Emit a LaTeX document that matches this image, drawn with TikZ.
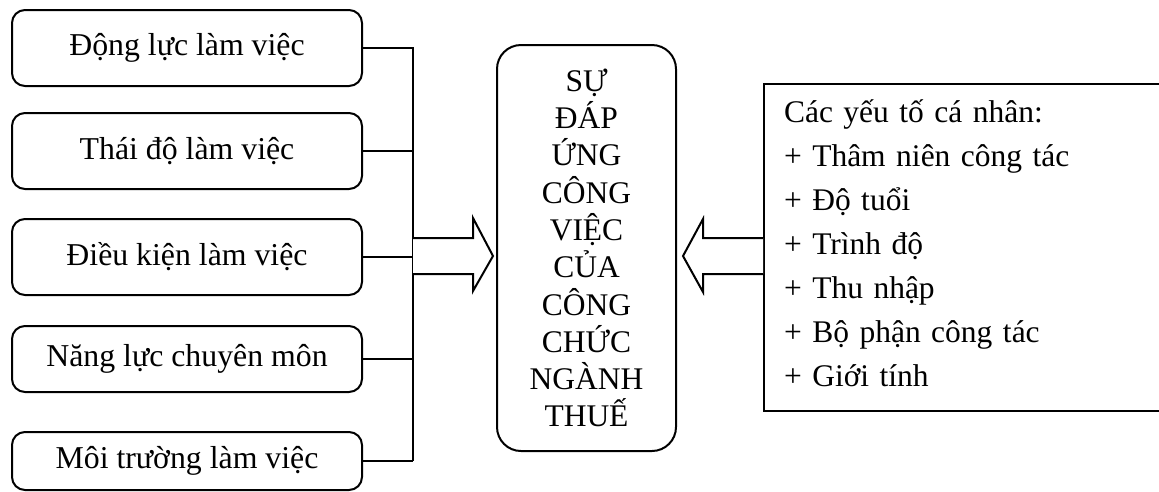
\documentclass[tikz,border=0pt]{standalone}
\usepackage{fontspec}
\setmainfont{Liberation Serif}
\usetikzlibrary{calc}
\begin{document}
\begin{tikzpicture}[x=1pt, y=-1pt, line width=2pt,
  factor/.style={draw, rounded corners=13pt, minimum width=350pt, inner sep=0pt,
    font=\fontsize{31.8}{38}\selectfont},
  bigbox/.style={draw, rounded corners=24pt, minimum width=179pt, minimum height=406pt,
    inner sep=0pt, align=center, font=\fontsize{31.5}{37.3}\selectfont},
  blockarrow/.style={draw, fill=white, line join=miter},
  link/.style={draw}]
\useasboundingbox (0,0) rectangle (1159,491);

% factors on the left
\node[factor, minimum height=76pt] (f1) at (187,48) {Động lực làm việc};
\node[factor, minimum height=76pt] (f2) at (187,151) {Thái độ làm việc};
\node[factor, minimum height=76pt] (f3) at (187,257) {Điều kiện làm việc};
\node[factor, minimum height=66pt] (f4) at (187,359) {Năng lực chuyên môn};
\node[factor, minimum height=58pt] (f5) at (187,461) {Môi trường làm việc};

% collecting bus
\coordinate (busTop) at (413,47);
\coordinate (busBot) at (413,461);
\draw[link] (busTop) -- (busBot);
\foreach \f in {f1,f2,f3,f4,f5}
  \draw[link] (\f.east) -- (\f.east -| busTop);

% central outcome
\node[bigbox] (target) at (586.5,248)
  {SỰ\\ĐÁP\\ỨNG\\CÔNG\\VIỆC\\CỦA\\CÔNG\\CHỨC\\NGÀNH\\THUẾ};

% personal factors box (runs past the right edge)
\node[draw, anchor=north west, minimum width=405pt, minimum height=327pt, inner sep=0pt]
  (personal) at (763,83) {};
\node[anchor=base west, text width=370pt, align=left, inner sep=0pt,
  font=\fontsize{31.5}{44}\selectfont] (plist) at (783,122)
  {Các yếu tố cá nhân:\\+ Thâm niên công tác\\+ Độ tuổi\\+ Trình độ\\+ Thu nhập\\+ Bộ phận công tác\\+ Giới tính};

% block arrows
\coordinate (inL) at (413,256);
\draw[blockarrow] (inL) ++(0,-18) -- ++(60,0) -- ++(0,-20) -- ++(20,38) -- ++(-20,35)
  -- ++(0,-17) -- ++(-60,0);
\coordinate (inR) at (personal.west |- inL);
\draw[blockarrow] (inR) ++(0,-18) -- ++(-60,0) -- ++(0,-19) -- ++(-20,37) -- ++(20,36)
  -- ++(0,-18) -- ++(60,0);
\end{tikzpicture}
\end{document}
